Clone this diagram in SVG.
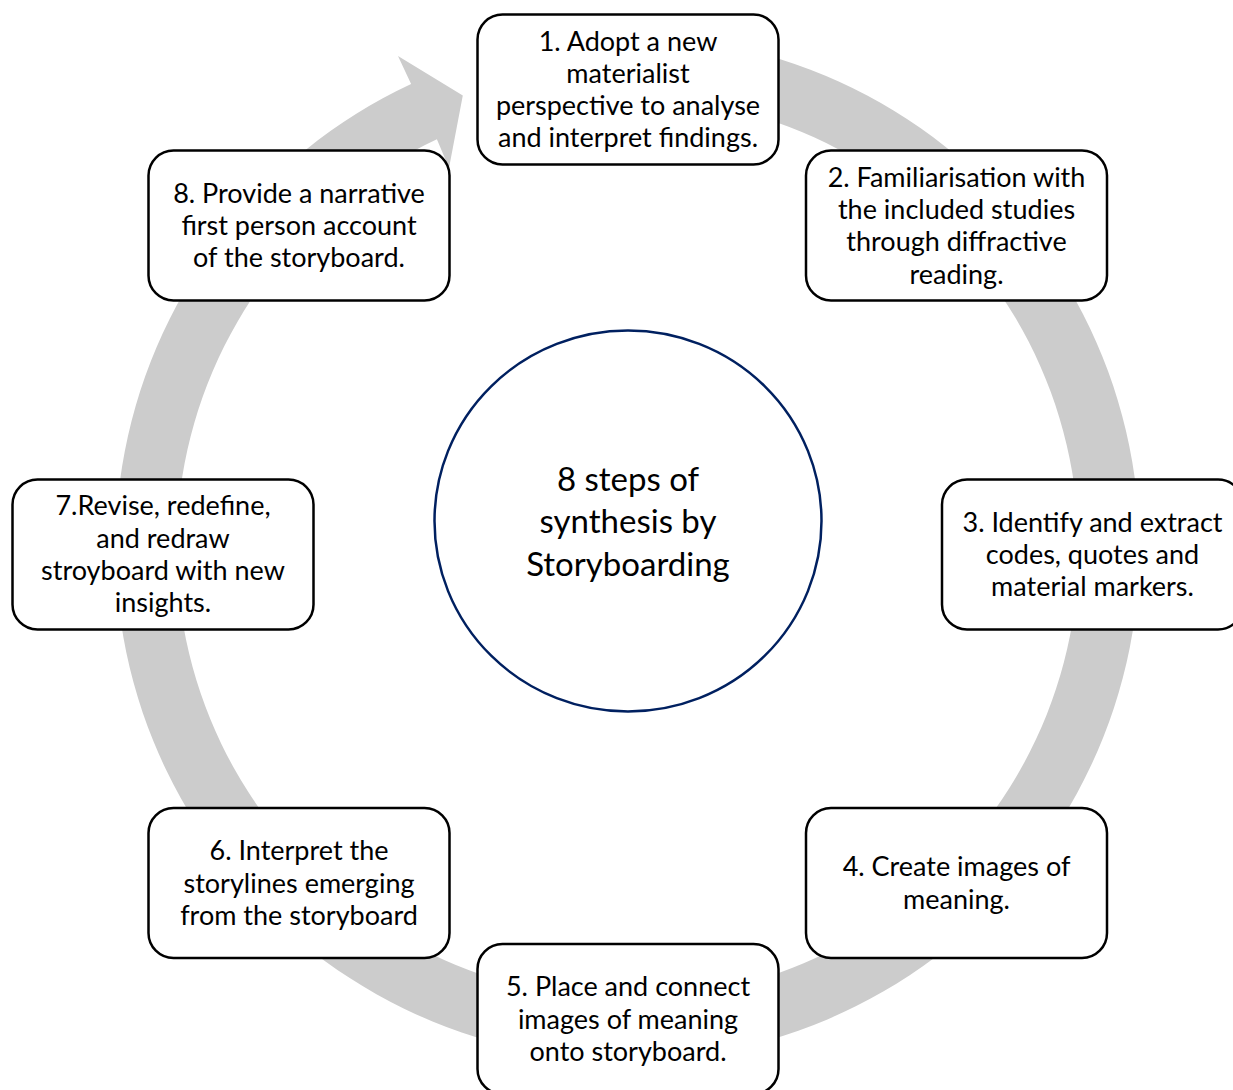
<svg xmlns="http://www.w3.org/2000/svg" width="1233" height="1090" viewBox="0 0 1233 1090">
  <style>
    .box { fill: #ffffff; stroke: #000000; stroke-width: 2.5; }
    .t { font-family: Lato, "Liberation Sans", sans-serif; font-size: 27px; fill: #000000; text-anchor: middle; }
    .c { font-family: Lato, "Liberation Sans", sans-serif; font-size: 33px; fill: #000000; text-anchor: middle; }
    .ring { fill: #cccccc; stroke: none; }
    .hub { fill: #ffffff; stroke: #002060; stroke-width: 2.5; }
  </style>
  <rect x="0" y="0" width="1233" height="1090" fill="#ffffff"/>
  <g id="connectors">
    <path class="ring" d="M 627.5 36 A 512 512 0 1 1 411.1 84.0 L 398.0 55.9 L 462.8 95.5 L 449 168 L 436.9 139.3 A 451 451 0 1 0 627.5 97 Z"/>
  </g>
  <g id="hub">
    <ellipse class="hub" cx="628" cy="521" rx="193.5" ry="190.5"/>
    <text class="c" x="628" y="491">8 steps of</text>
    <text class="c" x="628" y="533">synthesis by</text>
    <text class="c" x="628" y="576">Storyboarding</text>
  </g>
  <g id="step1">
    <rect class="box" x="477.5" y="14.5" width="301" height="150" rx="25"/>
    <text class="t" x="628" y="51">1. Adopt a new</text>
    <text class="t" x="628" y="83">materialist</text>
    <text class="t" x="628" y="115">perspective to analyse</text>
    <text class="t" x="628" y="147">and interpret findings.</text>
  </g>
  <g id="step2">
    <rect class="box" x="806" y="150.5" width="301" height="150" rx="25"/>
    <text class="t" x="956.5" y="187">2. Familiarisation with</text>
    <text class="t" x="956.5" y="219">the included studies</text>
    <text class="t" x="956.5" y="251">through diffractive</text>
    <text class="t" x="956.5" y="284">reading.</text>
  </g>
  <g id="step3">
    <rect class="box" x="942" y="479.5" width="301" height="150" rx="25"/>
    <text class="t" x="1092.5" y="532">3. Identify and extract</text>
    <text class="t" x="1092.5" y="564">codes, quotes and</text>
    <text class="t" x="1092.5" y="596">material markers.</text>
  </g>
  <g id="step4">
    <rect class="box" x="806" y="808" width="301" height="150" rx="25"/>
    <text class="t" x="956.5" y="876">4. Create images of</text>
    <text class="t" x="956.5" y="909">meaning.</text>
  </g>
  <g id="step5">
    <rect class="box" x="477.5" y="944" width="301" height="150" rx="25"/>
    <text class="t" x="628" y="996">5. Place and connect</text>
    <text class="t" x="628" y="1029">images of meaning</text>
    <text class="t" x="628" y="1061">onto storyboard.</text>
  </g>
  <g id="step6">
    <rect class="box" x="148.5" y="808" width="301" height="150" rx="25"/>
    <text class="t" x="299" y="860">6. Interpret the</text>
    <text class="t" x="299" y="893">storylines emerging</text>
    <text class="t" x="299" y="925">from the storyboard</text>
  </g>
  <g id="step7">
    <rect class="box" x="12.5" y="479.5" width="301" height="150" rx="25"/>
    <text class="t" x="163" y="515">7.Revise, redefine,</text>
    <text class="t" x="163" y="548">and redraw</text>
    <text class="t" x="163" y="580">stroyboard with new</text>
    <text class="t" x="163" y="612">insights.</text>
  </g>
  <g id="step8">
    <rect class="box" x="148.5" y="150.5" width="301" height="150" rx="25"/>
    <text class="t" x="299" y="203">8. Provide a narrative</text>
    <text class="t" x="299" y="235">first person account</text>
    <text class="t" x="299" y="267">of the storyboard.</text>
  </g>
</svg>
